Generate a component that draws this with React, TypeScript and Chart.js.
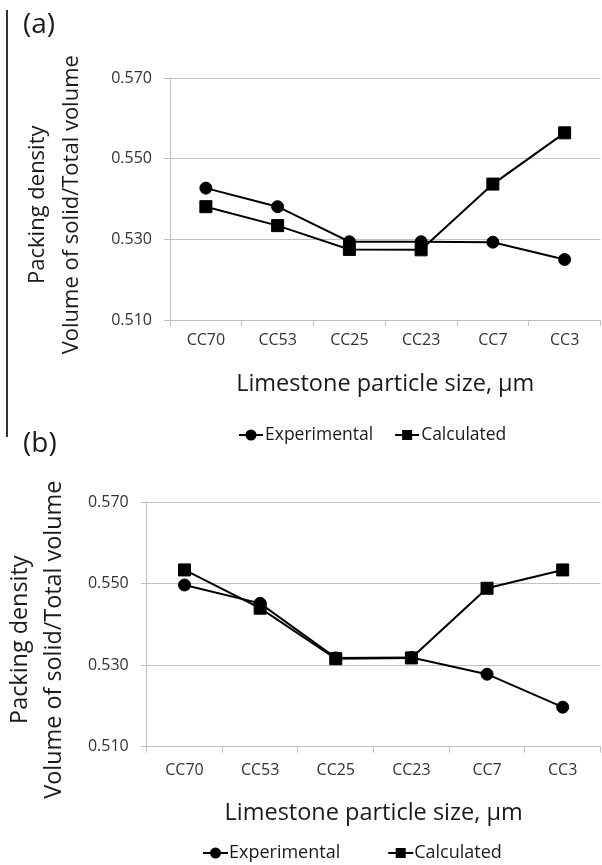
import React, { useEffect, useRef } from 'react';
import { Chart, registerables } from 'chart.js';

Chart.register(...registerables);

const FONT = "'Open Sans', sans-serif";

// ---- data ----
const categories = ['CC70', 'CC53', 'CC25', 'CC23', 'CC7', 'CC3'];
const seriesNames = ['Experimental', 'Calculated'];
const expA = [0.5427, 0.5381, 0.5294, 0.5294, 0.5293, 0.525];
const calcA = [0.5381, 0.5334, 0.5275, 0.5274, 0.5437, 0.5564];
const expB = [0.5497, 0.5452, 0.5318, 0.5319, 0.5278, 0.5197];
const calcB = [0.5534, 0.544, 0.5316, 0.5318, 0.5489, 0.5534];
const yTicks = [0.51, 0.53, 0.55, 0.57];
const xTitle = 'Limestone particle size, \u03bcm';
const yTitleLines = ['Packing density', 'Volume of solid/Total volume'];

const GRID = '#bfbfbf';

const lineLegend = {
  id: 'lineLegend',
  afterDraw(chart: any, _args: any, opts: any) {
    const ctx = chart.ctx;
    ctx.save();
    ctx.font = `${opts.size}px ${FONT}`;
    ctx.textBaseline = 'middle';
    ctx.textAlign = 'left';
    let x = opts.x;
    const y = opts.y;
    chart.data.datasets.forEach((ds: any) => {
      ctx.strokeStyle = ds.borderColor;
      ctx.lineWidth = 2;
      ctx.beginPath();
      ctx.moveTo(x, y);
      ctx.lineTo(x + opts.lineW, y);
      ctx.stroke();
      ctx.fillStyle = ds.pointBackgroundColor;
      const cx = x + opts.lineW / 2;
      if (ds.pointStyle === 'rect') {
        ctx.fillRect(cx - 5, y - 5, 10, 10);
      } else {
        ctx.beginPath();
        ctx.arc(cx, y, 5.5, 0, Math.PI * 2);
        ctx.fill();
      }
      ctx.fillStyle = '#1a1a1a';
      const tx = x + opts.lineW + opts.textGap;
      ctx.fillText(ds.label, tx, y);
      x = tx + ctx.measureText(ds.label).width + opts.itemGap;
    });
    ctx.restore();
  },
};

type P = {
  exp: number[];
  calc: number[];
  padTop: number;
  padRight: number;
  yWidth: number;
  xHeight: number;
  yTitleSize: number;
  yTitlePadTop: number;
  yTitleSpaces: number;
  xTickPad: number;
  xTitlePadBottom: number;
  legend: any;
};

function makeConfig(p: P): any {
  const sp = ' '.repeat(p.yTitleSpaces);
  return {
    type: 'line',
    data: {
      labels: categories,
      datasets: [
        {
          label: seriesNames[0],
          data: p.exp,
          borderColor: '#000',
          backgroundColor: '#000',
          pointBackgroundColor: '#000',
          pointBorderColor: '#000',
          pointBorderWidth: 1,
          pointStyle: 'circle',
          pointRadius: 6,
          borderWidth: 2,
          tension: 0,
          fill: false,
        },
        {
          label: seriesNames[1],
          data: p.calc,
          borderColor: '#000',
          backgroundColor: '#000',
          pointBackgroundColor: '#000',
          pointBorderColor: '#000',
          pointBorderWidth: 1,
          pointStyle: 'rect',
          pointRadius: 8.5,
          borderWidth: 2,
          tension: 0,
          fill: false,
        },
      ],
    },
    options: {
      responsive: false,
      animation: false,
      devicePixelRatio: 1,
      layout: { padding: { top: p.padTop, left: 0, right: p.padRight, bottom: 0 } },
      plugins: {
        legend: { display: false },
        tooltip: { enabled: false },
        lineLegend: p.legend,
      },
      scales: {
        x: {
          type: 'category',
          offset: true,
          afterFit: (s: any) => {
            s.height = p.xHeight;
          },
          grid: {
            display: true,
            drawOnChartArea: false,
            drawTicks: true,
            tickLength: 6,
            color: GRID,
            offset: true,
          },
          border: { display: true, color: GRID, width: 1 },
          ticks: {
            font: { family: FONT, size: 16 },
            color: '#333',
            padding: p.xTickPad,
            maxRotation: 0,
          },
          title: {
            display: true,
            text: xTitle,
            font: { family: FONT, size: 23.5, lineHeight: 1.2 },
            color: '#1a1a1a',
            padding: { top: 0, bottom: p.xTitlePadBottom },
          },
        },
        y: {
          min: 0.51,
          max: 0.57,
          afterFit: (s: any) => {
            s.width = p.yWidth;
          },
          afterBuildTicks: (s: any) => {
            s.ticks = yTicks.map((v) => ({ value: v }));
          },
          grid: {
            color: GRID,
            drawTicks: true,
            tickLength: 6,
          },
          border: { display: true, color: GRID, width: 1 },
          ticks: {
            font: { family: FONT, size: 16 },
            color: '#333',
            padding: 12,
            callback: (v: any) => Number(v).toFixed(3),
          },
          title: {
            display: true,
            text: yTitleLines.map((t) => t + sp),
            font: { family: FONT, size: p.yTitleSize, lineHeight: 34 / p.yTitleSize },
            color: '#1a1a1a',
            padding: { top: p.yTitlePadTop, bottom: 0 },
          },
        },
      },
    },
    plugins: [lineLegend],
  };
}

export default function App() {
  const refA = useRef<HTMLCanvasElement>(null);
  const refB = useRef<HTMLCanvasElement>(null);

  useEffect(() => {
    Chart.defaults.font.family = FONT;
    const a = new Chart(
      refA.current as HTMLCanvasElement,
      makeConfig({
        exp: expA,
        calc: calcA,
        padTop: 78,
        padRight: 4.75,
        yWidth: 170,
        xHeight: 130,
        yTitleSize: 22,
        yTitlePadTop: 20.5,
        yTitleSpaces: 2,
        xTickPad: 4.4,
        xTitlePadBottom: 52,
        legend: { x: 239, y: 435, size: 17.5, lineW: 24, textGap: 2, itemGap: 22 },
      })
    );
    const b = new Chart(
      refB.current as HTMLCanvasElement,
      makeConfig({
        exp: expB,
        calc: calcB,
        padTop: 58.3,
        padRight: 5.8,
        yWidth: 146.7,
        xHeight: 118.3,
        yTitleSize: 23.4,
        yTitlePadTop: 3.5,
        yTitleSpaces: 5,
        xTickPad: 7.7,
        xTitlePadBottom: 37.9,
        legend: { x: 203, y: 409, size: 18, lineW: 25, textGap: 1, itemGap: 48 },
      })
    );
    return () => {
      a.destroy();
      b.destroy();
    };
  }, []);

  const label: React.CSSProperties = {
    position: 'absolute',
    left: 23,
    fontFamily: FONT,
    fontSize: 28,
    lineHeight: '28px',
    color: '#1a1a1a',
    whiteSpace: 'nowrap',
  };

  return (
    <div
      style={{
        position: 'absolute',
        left: 0,
        top: 0,
        width: 602,
        height: 865,
        overflow: 'hidden',
        background: '#fff',
      }}
    >
      <div style={{ position: 'absolute', left: 0, top: 0, width: 602, height: 444, overflow: 'hidden' }}>
        <canvas ref={refA} width={610} height={450} style={{ display: 'block' }} />
      </div>
      <div style={{ position: 'absolute', left: 0, top: 444, width: 602, height: 421, overflow: 'hidden' }}>
        <canvas ref={refB} width={610} height={421} style={{ display: 'block' }} />
      </div>
      <div style={{ position: 'absolute', left: 6, top: 10, width: 2, height: 427, background: '#333' }} />
      <div style={{ ...label, top: 8 }}>(a)</div>
      <div style={{ ...label, top: 427 }}>(b)</div>
    </div>
  );
}
